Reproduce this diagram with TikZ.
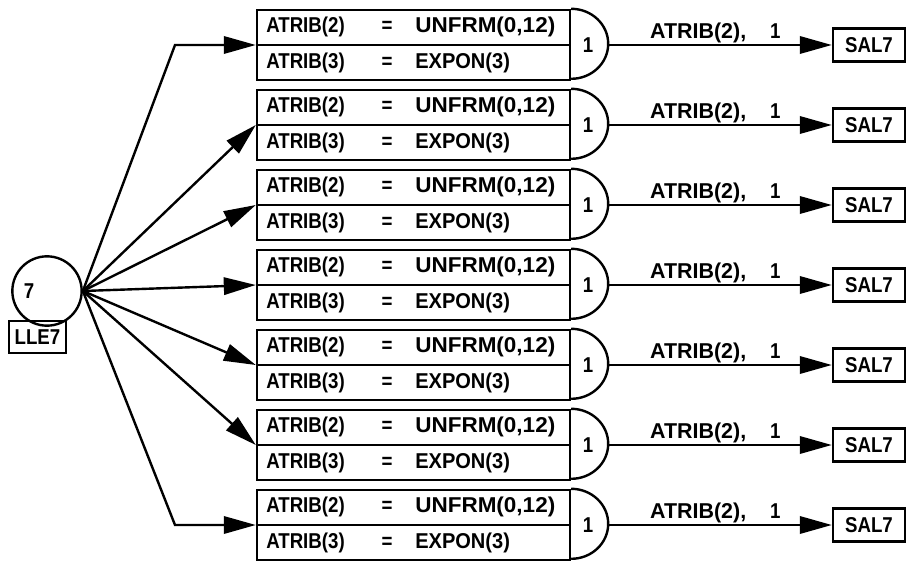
\documentclass[tikz,border=0pt]{standalone}
\usepackage{fontspec}
\usepackage{graphicx}
\setmainfont{Liberation Sans}
\usetikzlibrary{arrows.meta}
\newcommand\tallt[1]{\scalebox{1}[1.15]{#1}}
\begin{document}
\begin{tikzpicture}[x=0.75pt,y=-0.75pt,
  every node/.style={font=\fontsize{14}{16}\selectfont\bfseries},
  ln/.style={line width=1.8pt},
  arr/.style={ln, -{Triangle[length=24pt,width=13pt]}},
  attbox/.style={draw, ln, rectangle, minimum width=234.75pt, minimum height=52.5pt, inner sep=0pt},
  salbox/.style={draw, ln, minimum width=54pt, minimum height=24.75pt, inner sep=0pt},
  txt/.style={inner sep=0pt, anchor=west},
  plain/.style={inner sep=0pt},
]
\useasboundingbox (0,0) rectangle (909,570);
\node[draw, ln, circle, minimum size=52pt, inner sep=0pt] (src) at (47,291) {};
\node[plain] (seven) at (29,291) {\tallt{7}};
\node[draw, ln, minimum width=42.75pt, minimum height=24pt, inner sep=0pt] (lle) at (37.5,337) {\tallt{LLE7}};
\foreach \k in {1,...,7} {
  \pgfmathsetmacro\cy{45+80*(\k-1)}
  \node[attbox] (b\k) at (413.5,\cy) {};
  \draw[ln] (b\k.west) -- (b\k.east);
  \draw[ln] (b\k.north east) arc[start angle=-90,end angle=90,x radius=37,y radius=35];
  \node[txt] (a\k) at (266,\cy-18) {\tallt{ATRIB(2)}};
  \node[plain] (e\k) at (387,\cy-18) {\tallt{=}};
  \node[txt] (u\k) at (415,\cy-18) {\resizebox{105pt}{1.15\height}{UNFRM(0,12)}};
  \node[txt] (c\k) at (266,\cy+18) {\tallt{ATRIB(3)}};
  \node[plain] (f\k) at (387,\cy+18) {\tallt{=}};
  \node[txt] (x\k) at (415,\cy+18) {\resizebox{71pt}{1.15\height}{EXPON(3)}};
  \node[plain] (one\k) at (588,\cy) {\tallt{1}};
  \coordinate (g\k) at (607,\cy);
  \node[salbox] (s\k) at (869,\cy) {\tallt{SAL7}};
  \draw[arr] (g\k) -- (s\k.west) node[midway, above=1pt, xshift=-3pt, inner sep=0pt] (l\k) {\tallt{\resizebox{72pt}{\height}{ATRIB(2),}\hspace{18pt}1}};
}
\coordinate (c1) at (175,45);
\coordinate (c7) at (175,525);
\draw[arr] (src.east) -- (c1) -- (b1.west);
\foreach \k in {2,...,6} \draw[arr] (src.east) -- (b\k.west);
\draw[arr] (src.east) -- (c7) -- (b7.west);
\end{tikzpicture}
\end{document}
